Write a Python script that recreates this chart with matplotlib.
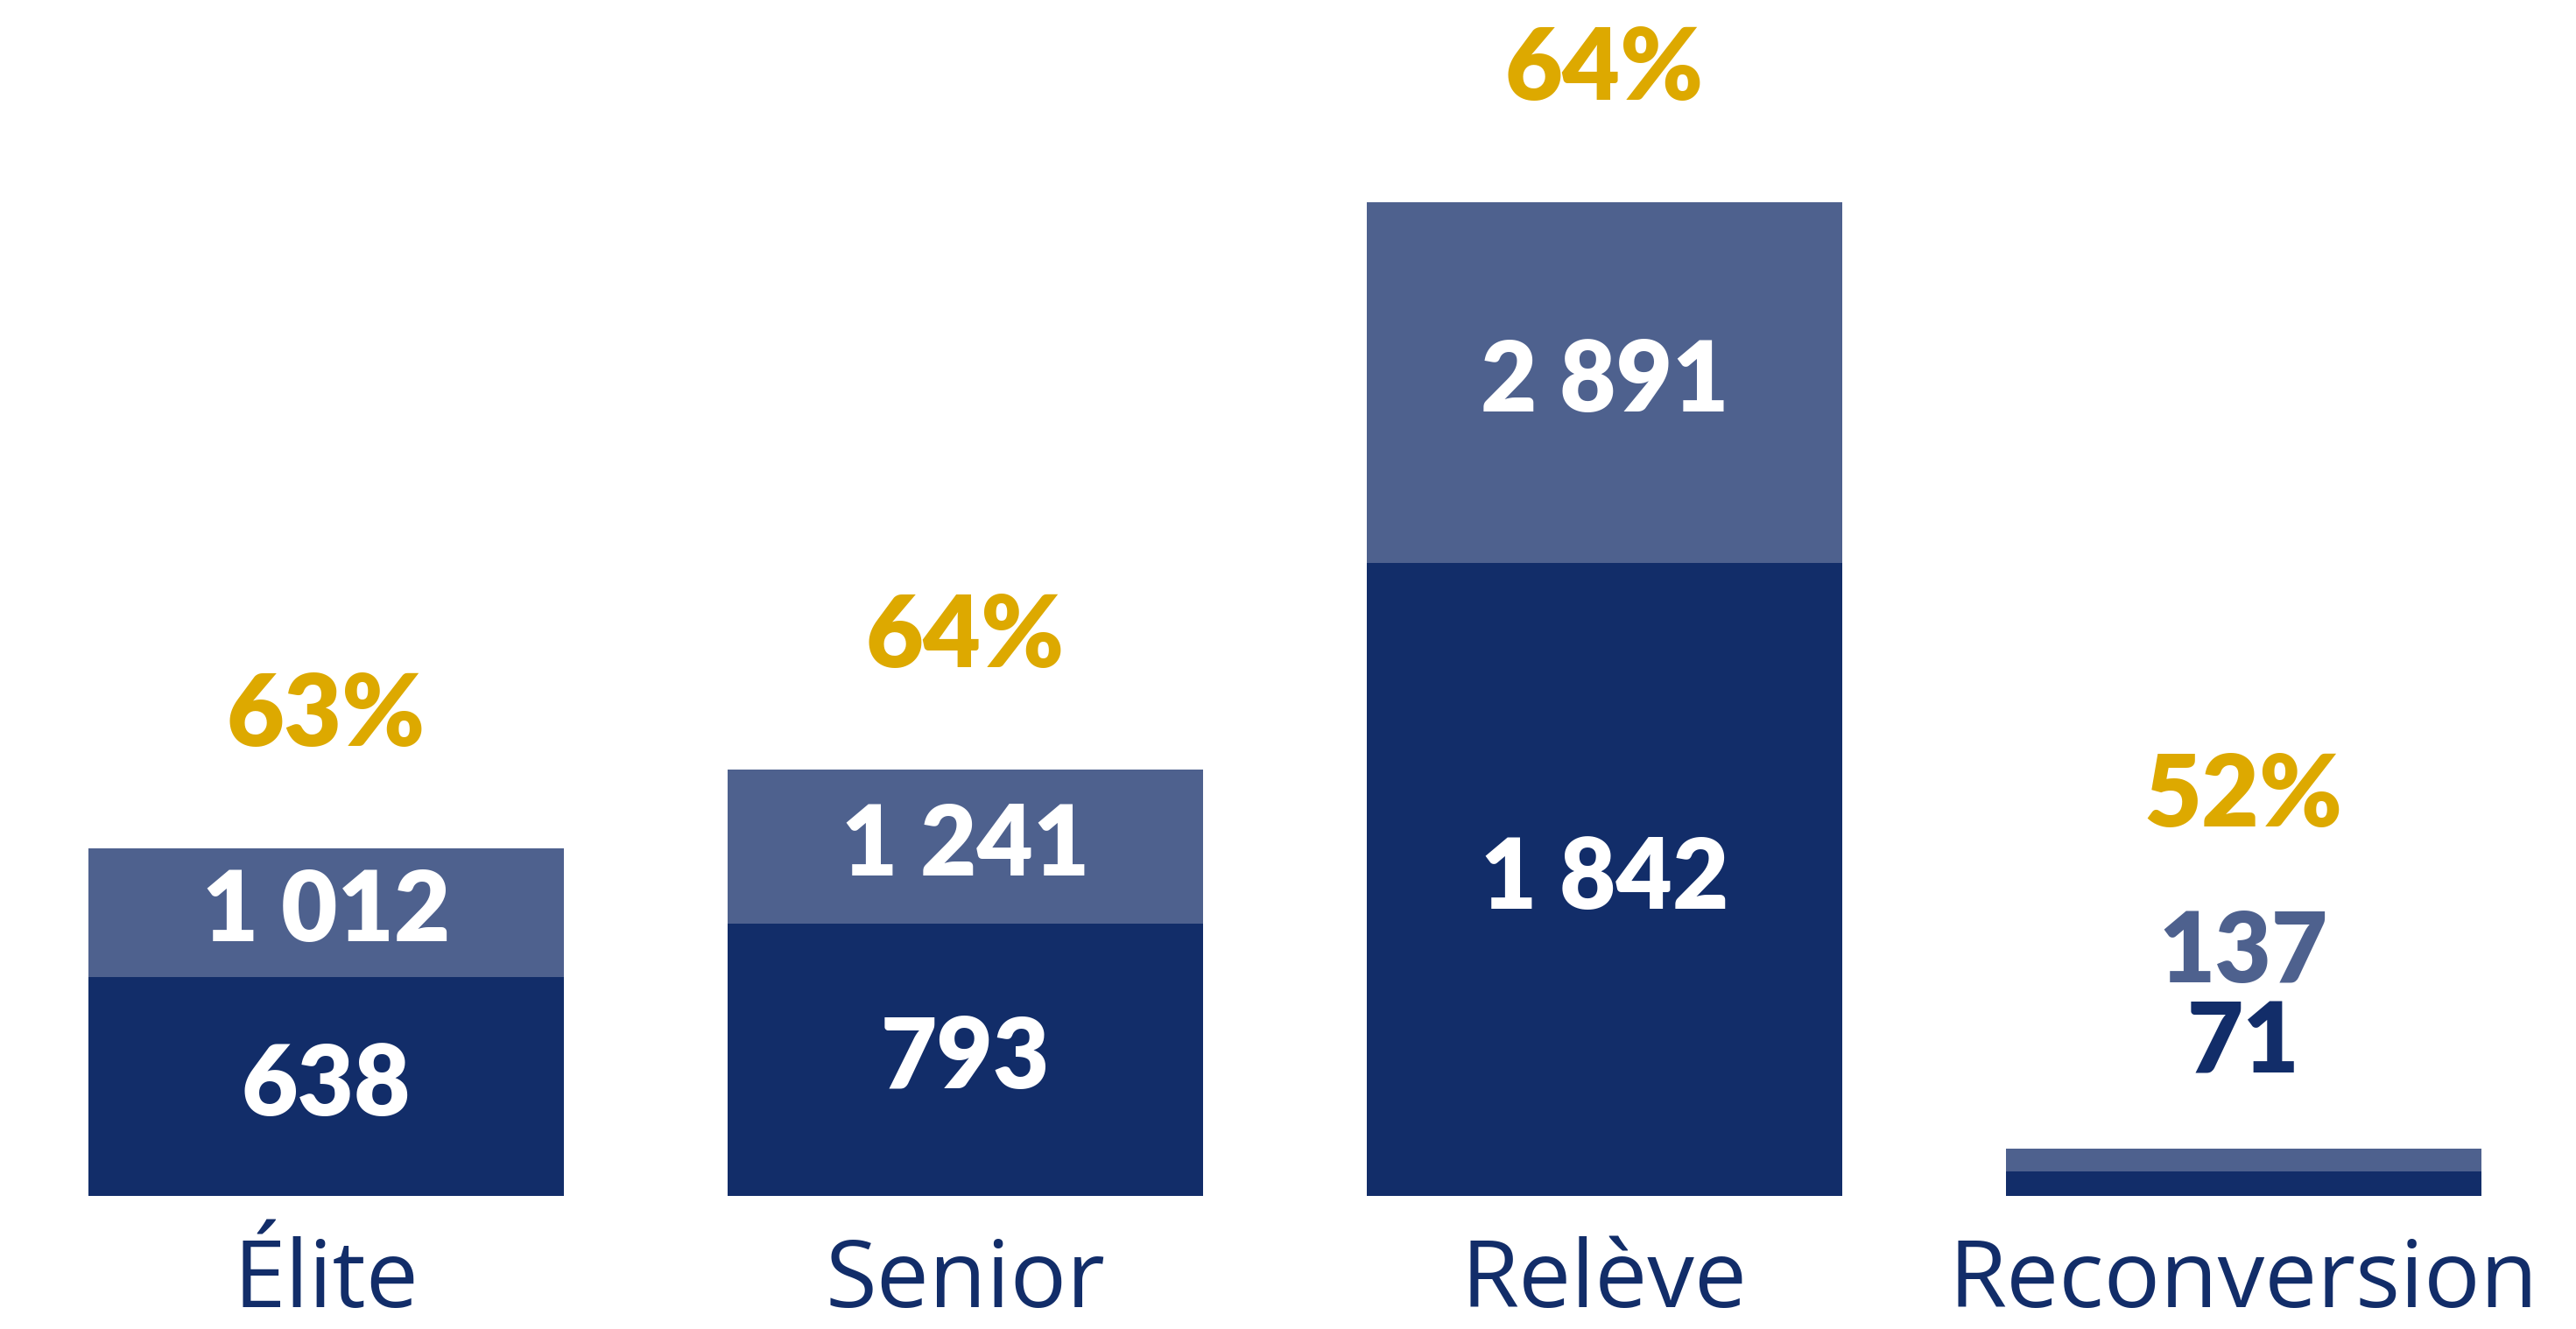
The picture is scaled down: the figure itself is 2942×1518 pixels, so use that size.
import matplotlib
matplotlib.use("Agg")
import matplotlib.pyplot as plt
import matplotlib.transforms as mtrans
import numpy as np

categories = ["Élite", "Senior", "Relève", "Reconversion"]
part_values = [638, 793, 1842, 71]        # dark segment
total_values = [1012, 1241, 2891, 137]    # full bar height
pct_labels = ["63%", "64%", "64%", "52%"]

DARK = "#122D69"
LIGHT = "#4E618E"
GOLD = "#DDA900"

NUM_FONT = ["Lato", "DejaVu Sans"]
LBL_FONT = ["Open Sans", "DejaVu Sans"]

def fmt(v):
    return f"{v:,}".replace(",", " ")

fig = plt.figure(figsize=(29.42, 15.18), dpi=100)
ax = fig.add_axes([0, 0.1, 1, 0.9])
x = np.arange(len(categories))
width = 0.743
part = np.array(part_values)
total = np.array(total_values)
rest = total - part

ax.bar(x, part, width=width, color=DARK, linewidth=0)
ax.bar(x, rest, width=width, bottom=part, color=LIGHT, linewidth=0)

ax.set_xlim(-0.51, 3.52)
ax.set_ylim(0, 3479)
ax.axis("off")

big = total.max()
for i in range(len(categories)):
    t, p = total[i], part[i]
    if t > 0.15 * big:
        ax.text(x[i], p / 2, fmt(p), ha="center", va="center", color="white",
                fontsize=80, fontweight="heavy", family=NUM_FONT)
        ax.text(x[i], p + (t - p) / 2, fmt(t), ha="center", va="center", color="white",
                fontsize=80, fontweight="heavy", family=NUM_FONT)
        ax.annotate(pct_labels[i], (x[i], t), xytext=(0, 108), textcoords="offset points",
                    ha="center", va="center", color=GOLD, fontsize=82,
                    fontweight="heavy", family=NUM_FONT)
    else:
        ax.annotate(fmt(p), (x[i], t), xytext=(0, 86), textcoords="offset points",
                    ha="center", va="center", color=DARK, fontsize=80,
                    fontweight="heavy", family=NUM_FONT)
        ax.annotate(fmt(t), (x[i], t), xytext=(0, 161), textcoords="offset points",
                    ha="center", va="center", color=LIGHT, fontsize=80,
                    fontweight="heavy", family=NUM_FONT)
        ax.annotate(pct_labels[i], (x[i], t), xytext=(0, 289), textcoords="offset points",
                    ha="center", va="center", color=GOLD, fontsize=82,
                    fontweight="heavy", family=NUM_FONT)

label_tr = mtrans.blended_transform_factory(ax.transData, fig.transFigure)
for i, c in enumerate(categories):
    ax.text(x[i], 0.0, c, transform=label_tr, ha="center", va="bottom",
            color=DARK, fontsize=77, family=LBL_FONT)

fig.savefig("out.png", dpi=100, facecolor="white")
